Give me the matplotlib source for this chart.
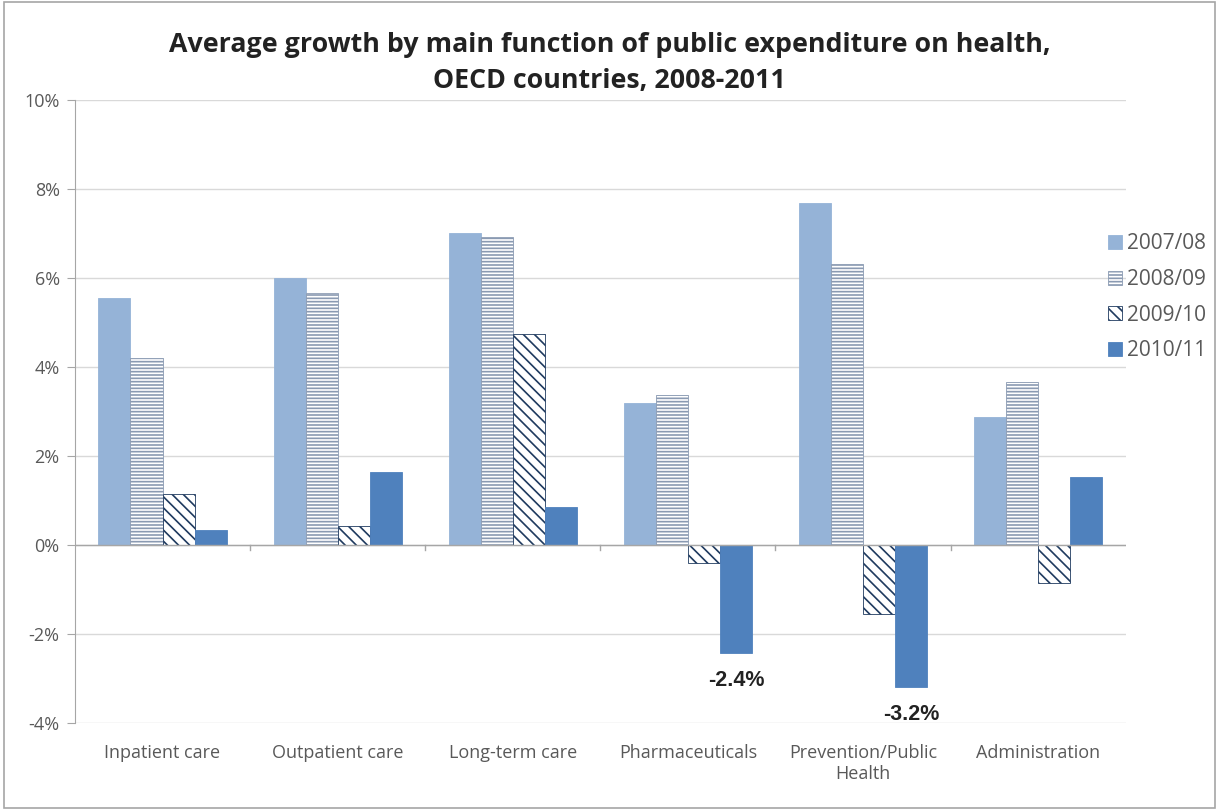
import numpy as np
import matplotlib.pyplot as plt
import matplotlib as mpl

plt.rcParams['font.family'] = ['Open Sans', 'DejaVu Sans']
mpl.rcParams['hatch.linewidth'] = 1.2

# data
categories = ['Inpatient care', 'Outpatient care', 'Long-term care', 'Pharmaceuticals',
              'Prevention/Public\nHealth', 'Administration']
series = ['2007/08', '2008/09', '2009/10', '2010/11']
v0708 = [5.55, 6.0, 7.0, 3.18, 7.68, 2.87]
v0809 = [4.2, 5.67, 6.92, 3.38, 6.32, 3.66]
v0910 = [1.15, 0.43, 4.75, -0.4, -1.55, -0.85]
v1011 = [0.33, 1.64, 0.85, -2.42, -3.18, 1.52]
yticks = [-4, -2, 0, 2, 4, 6, 8, 10]

fig = plt.figure(figsize=(12.19, 8.10), dpi=100)
ax = fig.add_axes([0.0615, 0.107, 0.862, 0.770])

x = np.arange(len(categories))
w = 0.183
styles = [
    dict(color='#95B3D7', edgecolor='#95B3D7', hatch=None),
    dict(color='white', edgecolor='#8A9AB2', hatch='-----'),
    dict(color='white', edgecolor='#1F3A5F', hatch='\\\\\\'),
    dict(color='#4F81BD', edgecolor='#4F81BD', hatch=None),
]
for i, (vals, name, st) in enumerate(zip([v0708, v0809, v0910, v1011], series, styles)):
    ax.bar(x + (i - 1.5) * w, vals, w, color=st['color'], edgecolor=st['edgecolor'],
           hatch=st['hatch'], linewidth=0.6, label=name, zorder=3)

# labels for the negative 2010/11 bars
for idx in [3, 4]:
    ax.text(x[idx] + 1.5 * w, v1011[idx] - 0.38, '%.1f%%' % v1011[idx], ha='center', va='top',
            fontsize=15.5, fontweight='bold', color='#222222', family=['Liberation Sans'])

ax.set_xlim(-0.5, len(categories) - 0.5)
ax.set_ylim(-4, 10)
ax.set_yticks(yticks)
ax.set_yticklabels(['%d%%' % t for t in yticks], fontsize=13, color='#595959')
ax.yaxis.grid(True, color='#D9D9D9', linewidth=1)
ax.set_axisbelow(True)
ax.tick_params(axis='y', length=6, pad=5, color='#A6A6A6')

ax.set_xticks(x)
ax.set_xticklabels(categories, fontsize=13, color='#595959', linespacing=1.2)
ax.tick_params(axis='x', length=0, pad=15)
ax.axhline(0, color='#A6A6A6', linewidth=1, zorder=4)
for b in np.arange(0.5, len(categories) - 0.5, 1):
    ax.plot([b, b], [0, -0.12], color='#A6A6A6', linewidth=1, zorder=4)

for s in ['top', 'right', 'bottom']:
    ax.spines[s].set_visible(False)
ax.spines['left'].set_color('#A6A6A6')

ax.legend(loc='center left', bbox_to_anchor=(0.909, 0.633), bbox_transform=fig.transFigure,
          frameon=False, fontsize=15, labelcolor='#595959', handlelength=0.65, handleheight=0.65,
          handletextpad=0.25, labelspacing=0.7, borderpad=0, borderaxespad=0)

fig.text(0.5, 0.922, 'Average growth by main function of public expenditure on health,\nOECD countries, 2008-2011',
         ha='center', va='center', fontsize=19.3, fontweight='bold', color='#222222', linespacing=1.5)

fig.patches.append(plt.Rectangle((0.003, 0.003), 0.994, 0.994, transform=fig.transFigure,
                                 fill=False, edgecolor='#A6A6A6', linewidth=1.2))

fig.savefig('out.png', dpi=100)
